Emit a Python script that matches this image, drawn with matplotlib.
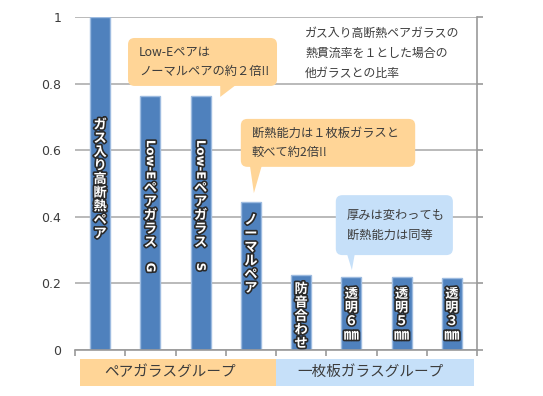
import matplotlib
matplotlib.use('Agg')
import matplotlib.pyplot as plt
import matplotlib.patheffects as pe
from matplotlib.patches import FancyBboxPatch, Polygon, Rectangle
from matplotlib.transforms import IdentityTransform

plt.rcParams['font.family'] = ['Noto Sans CJK JP', 'DejaVu Sans']

# data
categories = ['ガス入り高断熱ペア', 'Low-Eペアガラス G', 'Low-Eペアガラス S', 'ノーマルペア',
              '防音合わせ', '透明6mm', '透明5mm', '透明3mm']
values = [1.0, 0.763, 0.763, 0.444, 0.226, 0.218, 0.218, 0.215]
# label pieces: (text, rotated)
bar_labels = [
    [('ガス入り高断熱ペア', False)],
    [('Low-E', True), ('ペアガラス ', False), ('G', True)],
    [('Low-E', True), ('ペアガラス ', False), ('S', True)],
    [('ノーマルペア', False)],
    [('防音合わせ', False)],
    [('透明６', False), ('㎜', False)],
    [('透明５', False), ('㎜', False)],
    [('透明３', False), ('㎜', False)],
]
label_tops = [0.697, 0.631, 0.631, 0.411, 0.204, 0.189, 0.189, 0.189]
yticks = [0, 0.2, 0.4, 0.6, 0.8, 1]
ytick_labels = ['0', '0.2', '0.4', '0.6', '0.8', '1']
group_names = ['ペアガラスグループ', '一枚板ガラスグループ']
note_lines = ['ガス入り高断熱ペアガラスの', '熱貫流率を１とした場合の', '他ガラスとの比率']
callouts = [
    # lines, box (x0, x1, y0, y1), tail (xa, xb, tipx, tipy), color
    (['Low-Eペアは', 'ノーマルペアの約２倍!!'], (0.555, 3.52, 0.793, 0.937), (2.39, 2.72, 2.39, 0.76), '#ffd597'),
    (['断熱能力は１枚板ガラスと', '較べて約2倍!!'], (2.80, 6.27, 0.550, 0.694), (2.98, 3.22, 3.06, 0.471), '#ffd597'),
    (['厚みは変わっても', '断熱能力は同等'], (4.69, 7.02, 0.285, 0.465), (4.91, 5.07, 5.01, 0.24), '#c6e0f9'),
]

GRAY = '#b4b4b4'
TXT = '#3c3c3c'

fig = plt.figure(figsize=(5.43, 3.96), dpi=100)
ax = fig.add_axes([75/543, 46/396, 402/543, 333/396])

x = list(range(len(values)))
ax.bar(x, values, width=0.4, color='#4f81bd', edgecolor='#9dbbe0', linewidth=1, zorder=2)

ax.set_xlim(-0.5, 7.5)
ax.set_ylim(0, 1)
ax.set_yticks(yticks)
ax.set_yticklabels(ytick_labels, fontsize=9, color=TXT, family=['DejaVu Sans'])
ax.set_xticks([i - 0.5 for i in range(len(values) + 1)])
ax.set_xticklabels([])
ax.yaxis.grid(True, color=GRAY, lw=1.3)
ax.set_axisbelow(True)
for s in ['top', 'left']:
    ax.spines[s].set_visible(False)
for s in ['right', 'bottom']:
    ax.spines[s].set_color('#999999')
    ax.spines[s].set_linewidth(1.2)
ax.tick_params(axis='y', left=False, right=True, length=4, color='#999999', width=1.2, pad=6)
ax.tick_params(axis='x', length=4, color='#999999', width=1.2)

# vertical labels inside bars
renderer = fig.canvas.get_renderer()
stroke = [pe.withStroke(linewidth=2.4, foreground='#2a2a2a')]
step = 13.6
for i, pieces in enumerate(bar_labels):
    X, Y = ax.transData.transform((x[i], label_tops[i]))
    for s, rot in pieces:
        if rot:
            t = ax.text(X, Y, s, transform=IdentityTransform(), rotation=-90, ha='center', va='top',
                        fontsize=8.5, fontweight='bold', color='white', path_effects=stroke,
                        family=['DejaVu Sans'], zorder=3)
            Y -= t.get_window_extent(renderer).height + 2
        else:
            for ch in s:
                fs = 11 if ch == '㎜' else 9.5
                ax.text(X, Y - step / 2, ch, transform=IdentityTransform(), ha='center', va='center',
                        fontsize=fs, fontweight='bold', color='white', path_effects=stroke, zorder=3)
                Y -= step

# group boxes under the axis
ax.add_patch(Rectangle((-0.4, -0.108), 3.9, 0.081, color='#ffd597', clip_on=False, lw=0))
ax.add_patch(Rectangle((3.5, -0.108), 3.94, 0.081, color='#c6e0f9', clip_on=False, lw=0))
ax.text(1.39, -0.067, group_names[0], ha='center', va='center', fontsize=10.5, color=TXT)
ax.text(5.39, -0.067, group_names[1], ha='center', va='center', fontsize=10.5, color=TXT)

# note text
for j, line in enumerate(note_lines):
    ax.text(4.08, 0.952 - j * 0.06, line, ha='left', va='center', fontsize=8.6, color=TXT)

# callouts
asp = 50.25 / 333
for lines, (x0, x1, y0, y1), (xa, xb, tx, ty), col in callouts:
    ax.add_patch(FancyBboxPatch((x0, y0), x1 - x0, y1 - y0,
                                boxstyle='round,pad=0,rounding_size=0.13', mutation_aspect=asp,
                                fc=col, ec='none', clip_on=False, zorder=4))
    ax.add_patch(Polygon([(xa, y0 + 0.005), (xb, y0 + 0.005), (tx, ty)], closed=True,
                         fc=col, ec='none', clip_on=False, zorder=4))
    n = len(lines)
    yc = (y0 + y1) / 2
    for j, line in enumerate(lines):
        ax.text(x0 + 0.22, yc + (n - 1) * 0.03 - j * 0.06, line, ha='left', va='center',
                fontsize=8.8, color=TXT, zorder=5)

fig.savefig('out.png', dpi=100)
